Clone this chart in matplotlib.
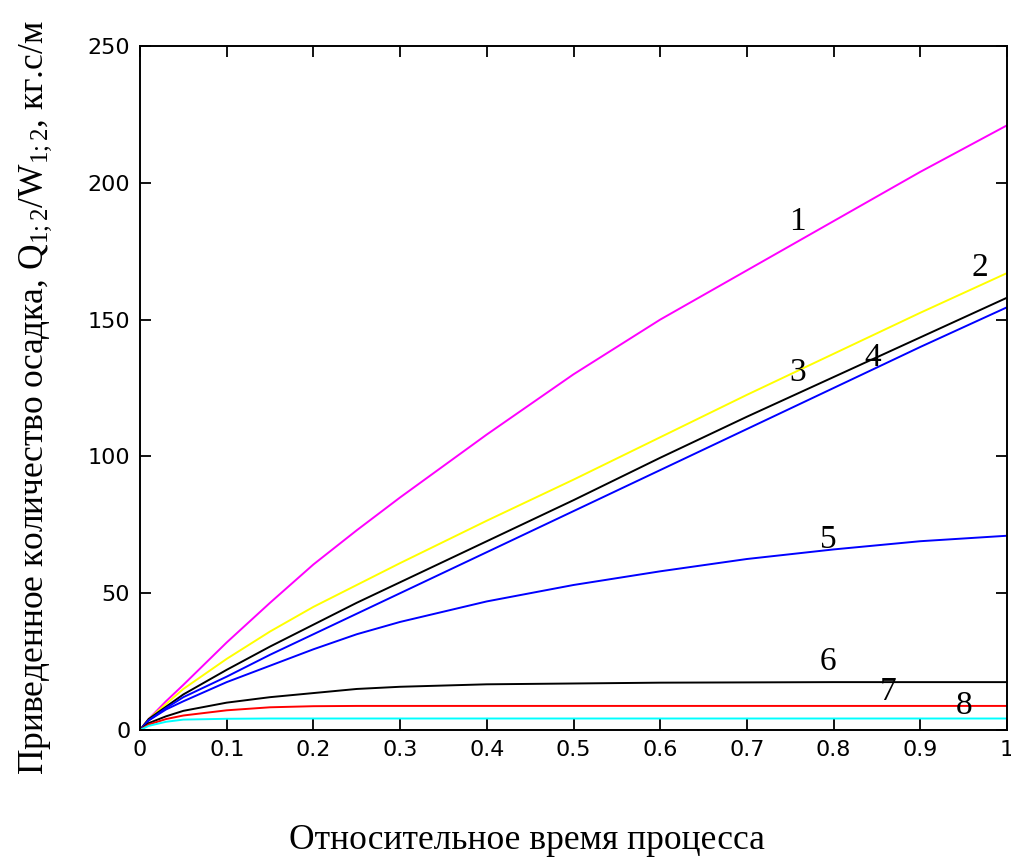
import matplotlib
matplotlib.use("Agg")
import matplotlib.pyplot as plt

# ---- data ----
t = [0.0, 0.01, 0.03, 0.05, 0.1, 0.15, 0.2, 0.25, 0.3, 0.4, 0.5, 0.6, 0.7, 0.8, 0.9, 1.0]
q1 = [0, 4, 10.5, 16.5, 32, 46.5, 60.5, 73, 85, 108, 130, 150, 168, 186, 204, 221]
q2 = [0, 4, 9.5, 15, 26, 36, 45, 53, 61, 76.5, 91.5, 107, 122.5, 137.5, 152.5, 167]
q3 = [0, 4, 8.5, 13, 22, 30.5, 38.5, 46.5, 54, 69, 84, 99.5, 114.5, 129, 143.5, 158]
q4 = [0, 3.5, 8, 12, 19.5, 27.5, 35, 42.5, 50, 65, 80, 95, 110, 125, 140, 154.5]
q5 = [0, 3.5, 7.5, 10.5, 17.5, 23.5, 29.5, 35, 39.5, 47, 53, 58, 62.5, 66, 69, 71]
q6 = [0, 2.5, 5, 7, 10, 12, 13.5, 15, 15.8, 16.7, 17, 17.3, 17.4, 17.5, 17.5, 17.5]
q7 = [0, 2, 4, 5.3, 7.2, 8.3, 8.7, 8.8, 8.8, 8.8, 8.8, 8.8, 8.8, 8.8, 8.8, 8.8]
q8 = [0, 1.5, 3, 3.8, 4.1, 4.2, 4.2, 4.2, 4.2, 4.2, 4.2, 4.2, 4.2, 4.2, 4.2, 4.2]

series = [q1, q2, q3, q4, q5, q6, q7, q8]
colors = ["#ff00ff", "#ffff00", "#000000", "#0000ff", "#0000ff", "#000000", "#ff0000", "#00ffff"]
labels = ["1", "2", "3", "4", "5", "6", "7", "8"]
label_pos = [(0.758, 185.7), (0.969, 168.9), (0.758, 130.5), (0.845, 136.0),
             (0.794, 69.4), (0.794, 24.9), (0.863, 13.9), (0.950, 8.8)]

xticks = [0, 0.1, 0.2, 0.3, 0.4, 0.5, 0.6, 0.7, 0.8, 0.9, 1]
xticklabels = ["0", "0.1", "0.2", "0.3", "0.4", "0.5", "0.6", "0.7", "0.8", "0.9", "1"]
yticks = [0, 50, 100, 150, 200, 250]

plt.rcParams["mathtext.fontset"] = "custom"
plt.rcParams["mathtext.rm"] = "Liberation Serif"
plt.rcParams["mathtext.it"] = "Liberation Serif"

fig = plt.figure(figsize=(10.12, 8.63), dpi=100)
ax = fig.add_axes([140/1012, 1-730/863, (1007-140)/1012, (730-46)/863])

for y, c in zip(series, colors):
    ax.plot(t, y, color=c, lw=1.4)

for lab, (x, y) in zip(labels, label_pos):
    ax.text(x, y, lab, fontsize=24, family="Liberation Serif", ha="center", va="center")

ax.set_xlim(0, 1)
ax.set_ylim(0, 250)
ax.set_xticks(xticks)
ax.set_xticklabels(xticklabels)
ax.set_yticks(yticks)
ax.tick_params(direction="in", length=8, width=1.3, top=True, right=True,
               labelsize=16, pad=7)
for lbl in ax.get_xticklabels() + ax.get_yticklabels():
    lbl.set_family("DejaVu Sans")
for s in ax.spines.values():
    s.set_linewidth(1.4)

fig.text(527/1012, 1-840/863, "Относительное время процесса", fontsize=25.5,
         family="Liberation Serif", ha="center", va="center")
fig.text(36/1012, 1-398/863,
         r"Приведенное количество осадка, Q$_{\mathrm{1{;}2}}$/W$_{\mathrm{1{;}2}}$, кг.с/м",
         fontsize=25.5, family="Liberation Serif", ha="center", va="center", rotation=90)

fig.savefig("out.png", dpi=100)
